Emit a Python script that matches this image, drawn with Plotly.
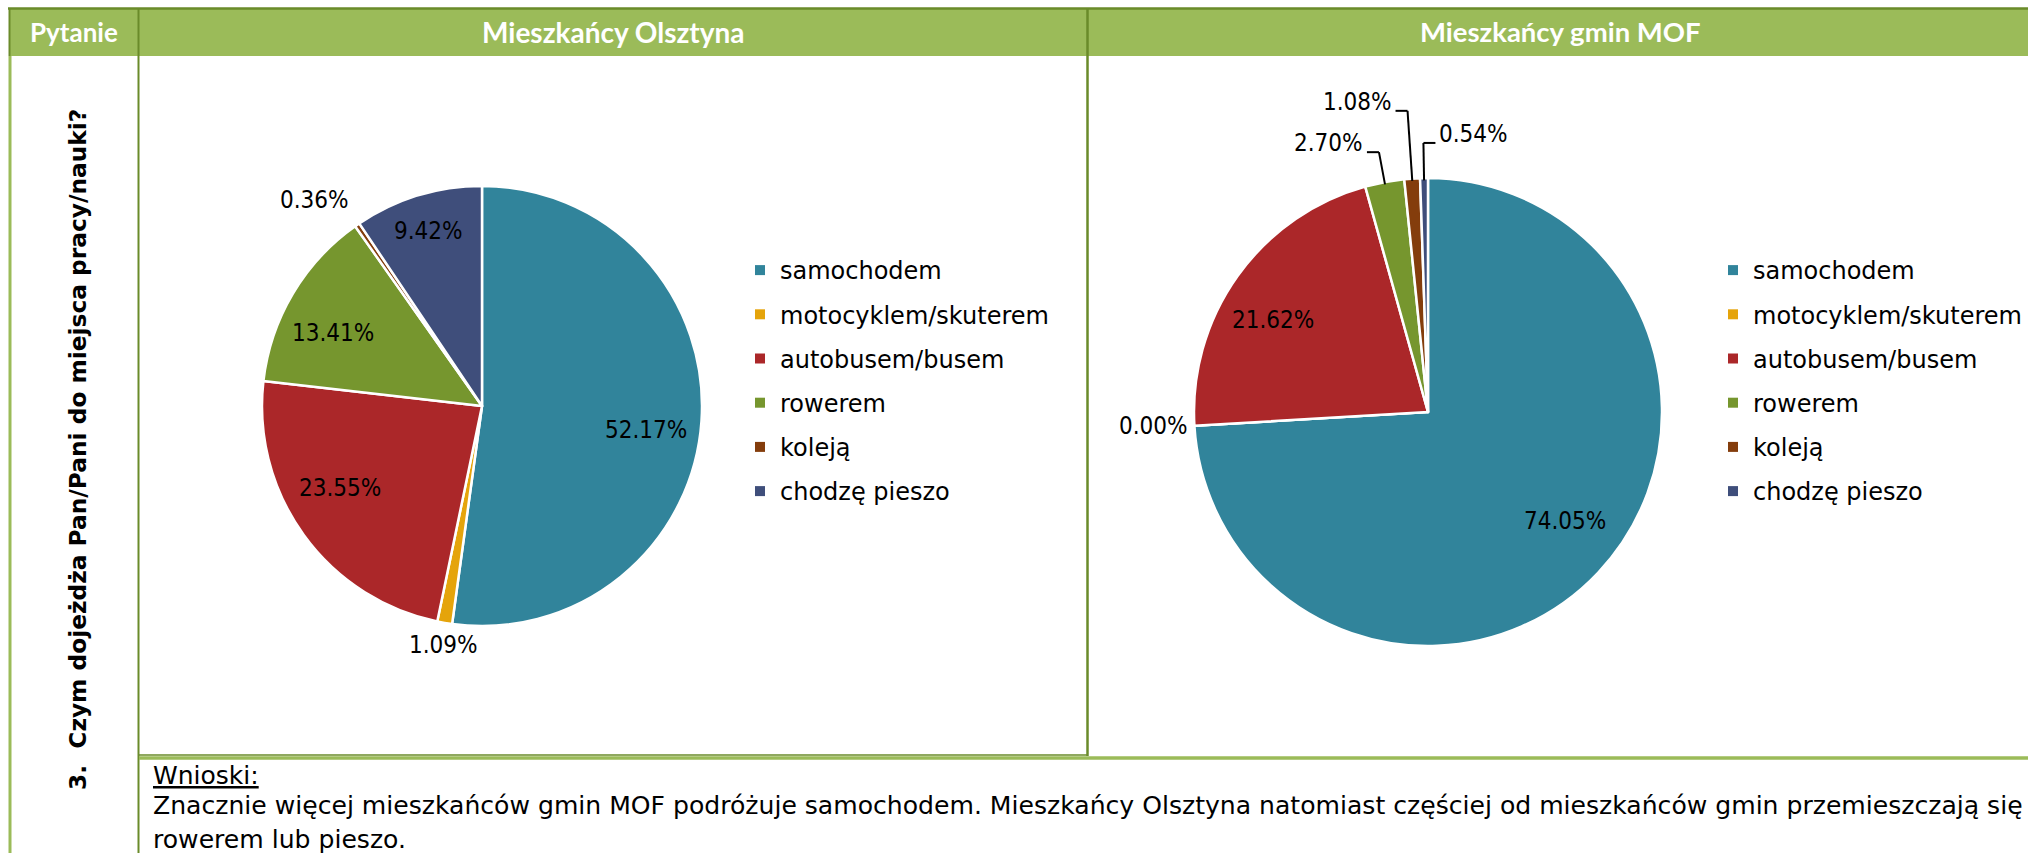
import math
import plotly.graph_objects as go

W, H = 2028, 853

# ---------------- data ----------------
categories = ["samochodem", "motocyklem/skuterem", "autobusem/busem",
              "rowerem", "koleją", "chodzę pieszo"]
olsztyn_values = [52.17, 1.09, 23.55, 13.41, 0.36, 9.42]
mof_values = [74.05, 0.00, 21.62, 2.70, 1.08, 0.54]

header_pytanie = "Pytanie"
header_left = "Mieszkańcy Olsztyna"
header_right = "Mieszkańcy gmin MOF"
question = "3.  Czym dojeżdża Pan/Pani do miejsca pracy/nauki?"
conclusion_title = "Wnioski:"
conclusion_lines = [
    "Znacznie więcej mieszkańców gmin MOF podróżuje samochodem. Mieszkańcy Olsztyna natomiast częściej od mieszkańców gmin przemieszczają się",
    "rowerem lub pieszo.",
]

# ---------------- style ----------------
colors = ["#31849B", "#E5A40B", "#AB2729", "#76962E", "#843D0C", "#3F4E7B"]
GREEN = "#9BBB59"
DARK = "#6A8B2A"
FL = "DejaVu Sans Condensed, DejaVu Sans, sans-serif"   # data labels
F = "DejaVu Sans, sans-serif"                              # legend / text
FB = "Lato, Open Sans, sans-serif"                         # header

# label placement: mode, radial factor, angular nudge (deg), leader side
olsztyn_label_mode = ["in", "out", "in", "in", "out", "in"]
olsztyn_label_r = [0.755, 1.03, 0.745, 0.755, 1.05, 0.83]
olsztyn_label_dang = [4.4, 0, 6.0, -4.7, 0, 0]
olsztyn_label_side = [0, 0, 0, 0, 0, 0]
mof_label_mode = ["in", "out", "in", "lead", "lead", "lead"]
mof_label_r = [0.75, 1.02, 0.77, 1.13, 1.29, 1.15]
mof_label_dang = [-4.8, 0, -4.8, 0, 0, 0]
mof_label_side = [0, 0, 0, -1, -1, 1]

# pie geometry (pixels)
left_pie = dict(cx=482, cy=406, r=220)
right_pie = dict(cx=1428, cy=412, r=234)


def px(x):
    return x / W


def py(y):
    return 1 - y / H


def domain(g):
    return dict(x=[px(g["cx"] - g["r"]), px(g["cx"] + g["r"])],
                y=[py(g["cy"] + g["r"]), py(g["cy"] - g["r"])])


fig = go.Figure()

for vals, g in ((olsztyn_values, left_pie), (mof_values, right_pie)):
    fig.add_trace(go.Pie(
        labels=categories, values=vals, sort=False, direction="clockwise",
        rotation=0, textinfo="none", textposition="none", showlegend=False,
        marker=dict(colors=colors, line=dict(color="white", width=2.5)),
        domain=domain(g), hoverinfo="label+percent"))

# legends via marker-only traces
for lg in ("legend", "legend2"):
    for c, lab in zip(colors, categories):
        fig.add_trace(go.Scatter(
            x=[None], y=[None], mode="markers", name=lab, legend=lg,
            legendgroup=lg + lab,
            marker=dict(symbol="square", size=10, color=c)))

annotations = []
shapes = []


def add_labels(vals, g, modes, rf, dang, sides):
    total = sum(vals)
    cum = 0.0
    for v, m, f, da, s in zip(vals, modes, rf, dang, sides):
        th_mid = 2 * math.pi * (cum + v / 2) / total
        cum += v
        th = th_mid + math.radians(da)
        ux, uy = math.sin(th), -math.cos(th)
        txt = f"{v:.2f}%"
        cx, cy, r = g["cx"], g["cy"], g["r"]
        if m == "in":
            annotations.append(dict(x=px(cx + f * r * ux), y=py(cy + f * r * uy),
                                    text=txt, xanchor="center", yanchor="middle"))
        elif m == "out":
            xa = "right" if ux < -0.3 else ("left" if ux > 0.3 else "center")
            ya = "bottom" if uy < -0.3 else ("top" if uy > 0.3 else "middle")
            annotations.append(dict(x=px(cx + f * r * ux), y=py(cy + f * r * uy),
                                    text=txt, xanchor=xa, yanchor=ya))
        else:
            ex, ey = cx + 0.99 * r * ux, cy + 0.99 * r * uy
            bx, by = cx + f * r * ux, cy + f * r * uy
            endx = bx + s * 12
            shapes.append(dict(type="line", xref="paper", yref="paper",
                               x0=px(ex), y0=py(ey), x1=px(bx), y1=py(by),
                               line=dict(color="black", width=2)))
            shapes.append(dict(type="line", xref="paper", yref="paper",
                               x0=px(bx), y0=py(by), x1=px(endx), y1=py(by),
                               line=dict(color="black", width=2)))
            annotations.append(dict(x=px(endx + s * 2), y=py(by), text=txt,
                                    xanchor="left" if s > 0 else "right",
                                    yanchor="middle", yshift=9))


add_labels(olsztyn_values, left_pie, olsztyn_label_mode, olsztyn_label_r,
           olsztyn_label_dang, olsztyn_label_side)
add_labels(mof_values, right_pie, mof_label_mode, mof_label_r,
           mof_label_dang, mof_label_side)

for a in annotations:
    a.update(font=dict(family=FL, size=24, color="black"))

# table frame
frame = [
    dict(type="rect", x0=px(9), x1=px(2040), y0=py(9), y1=py(56),
         fillcolor=GREEN, line=dict(width=0), layer="below"),
    dict(type="line", x0=px(8), x1=px(2040), y0=py(8.5), y1=py(8.5),
         line=dict(color=DARK, width=2.5)),
    dict(type="line", x0=px(10), x1=px(10), y0=py(56), y1=py(853),
         line=dict(color=GREEN, width=3)),
    dict(type="line", x0=px(9.5), x1=px(9.5), y0=py(8), y1=py(56),
         line=dict(color=DARK, width=2)),
    dict(type="line", x0=px(138.5), x1=px(138.5), y0=py(8), y1=py(853),
         line=dict(color=DARK, width=2)),
    dict(type="line", x0=px(1087.5), x1=px(1087.5), y0=py(8), y1=py(756),
         line=dict(color=DARK, width=2.5)),
    dict(type="line", x0=px(139), x1=px(1087), y0=py(755), y1=py(755),
         line=dict(color=DARK, width=1.5)),
    dict(type="line", x0=px(139), x1=px(2040), y0=py(758), y1=py(758),
         line=dict(color=GREEN, width=3.5)),
]
for s in frame:
    s.update(xref="paper", yref="paper")
shapes = frame + shapes

annotations += [
    dict(x=px(74), y=py(32), text=f"<b>{header_pytanie}</b>", xanchor="center",
         font=dict(family=FB, size=26, color="white")),
    dict(x=px(613), y=py(32), text=f"<b>{header_left}</b>", xanchor="center",
         font=dict(family=FB, size=28, color="white")),
    dict(x=px(1560), y=py(32), text=f"<b>{header_right}</b>", xanchor="center",
         font=dict(family=FB, size=27.5, color="white")),
    dict(x=px(78), y=py(450), text=f"<b>{question}</b>", textangle=-90, xanchor="center",
         font=dict(family=F, size=23.3, color="black")),
    dict(x=px(151), y=py(775), xanchor="left",
         text=f"<span style='text-decoration:underline'>{conclusion_title}</span>",
         font=dict(family=F, size=25, color="black")),
]
for i, line in enumerate(conclusion_lines):
    annotations.append(dict(x=px(151), y=py(805 + 34 * i), xanchor="left", text=line,
                            font=dict(family=F, size=25.1, color="black")))
for a in annotations:
    a.setdefault("xref", "paper")
    a.setdefault("yref", "paper")
    a.setdefault("showarrow", False)
    a.setdefault("yanchor", "middle")

leg_common = dict(xanchor="left", yanchor="top", tracegroupgap=10,
                  bgcolor="rgba(0,0,0,0)", font=dict(family=F, size=24, color="black"),
                  itemclick=False, itemdoubleclick=False)

fig.update_layout(
    width=W, height=H, margin=dict(l=0, r=0, t=0, b=0),
    paper_bgcolor="white", plot_bgcolor="white",
    xaxis=dict(visible=False), yaxis=dict(visible=False),
    shapes=shapes, annotations=annotations,
    legend=dict(x=px(740), y=py(248), **leg_common),
    legend2=dict(x=px(1713), y=py(248), **leg_common),
)

fig.write_html("out.html", config={"displayModeBar": False},
               post_script="document.body.style.margin='0';document.body.style.overflow='hidden';")
